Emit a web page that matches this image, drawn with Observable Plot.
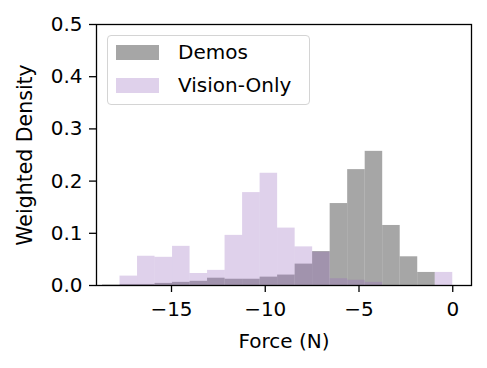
<!DOCTYPE html>
<html>
<head>
<meta charset="utf-8">
<script src="https://cdn.jsdelivr.net/npm/d3@7"></script>
<script src="https://cdn.jsdelivr.net/npm/@observablehq/plot@0.6"></script>
<style>
  html, body { margin: 0; padding: 0; background: #fff; }
  #wrap { position: relative; width: 487px; height: 368px; font-family: "DejaVu Sans", sans-serif; }
  #legend { position: absolute; left: 107px; top: 35px; width: 201px; height: 68px;
    border: 1px solid #d4d4d4; border-radius: 4px; background: rgba(255,255,255,0.8); box-sizing: content-box; }
  .entry { position: absolute; left: 8px; height: 16px; }
  .sw { position: absolute; left: 0; top: 0; width: 43px; height: 15px; }
  .lab { position: absolute; left: 62px; top: -6px; font-size: 20px; white-space: nowrap; color: #000; line-height: 26px; }
</style>
</head>
<body>
<div id="wrap"></div>
<script>
// Histogram bin range (Force, N) and number of bins
const binMin = -18.68;
const binMax = 0.0;
const binCount = 20;

// Series names and colours
const seriesNames = ["Demos", "Vision-Only"];
const seriesColors = ["#808080", "#9467bd"];
const seriesOpacity = [0.7, 0.3];

// Weighted density per bin (left to right)
const demosValues = [0.001, 0.002, 0.002, 0.004, 0.006, 0.008, 0.014, 0.012, 0.012, 0.016,
                     0.020, 0.041, 0.065, 0.157, 0.222, 0.257, 0.115, 0.055, 0.025, 0.0];
const visionValues = [0.0, 0.018, 0.056, 0.054, 0.075, 0.023, 0.029, 0.096, 0.178, 0.215,
                      0.110, 0.074, 0.064, 0.013, 0.010, 0.006, 0.0, 0.0, 0.0, 0.025];

// Axis ticks
const xTicks = [-15, -10, -5, 0];
const yTicks = [0.0, 0.1, 0.2, 0.3, 0.4, 0.5];
const xDomain = [-19, 1];
const yDomain = [0, 0.5];
const xLabel = "Force (N)";
const yLabel = "Weighted Density";

const binW = (binMax - binMin) / binCount;
function toRows(values, series) {
  return values.map((v, i) => ({series, x1: binMin + i * binW, x2: binMin + (i + 1) * binW, y: v}));
}
const rows = [...toRows(demosValues, seriesNames[0]), ...toRows(visionValues, seriesNames[1])];

const fmt = d3.format(".1f");
const chart = Plot.plot({
  width: 487,
  height: 368,
  marginLeft: 96,
  marginRight: 16,
  marginTop: 24,
  marginBottom: 83,
  style: {fontFamily: "DejaVu Sans, sans-serif", fontSize: "20px", color: "#000", background: "#fff"},
  x: {domain: xDomain},
  y: {domain: yDomain},
  marks: [
    Plot.rectY(rows.filter(d => d.series === seriesNames[0]), {x1: "x1", x2: "x2", y: "y", fill: seriesColors[0], fillOpacity: seriesOpacity[0], inset: 0}),
    Plot.rectY(rows.filter(d => d.series === seriesNames[1]), {x1: "x1", x2: "x2", y: "y", fill: seriesColors[1], fillOpacity: seriesOpacity[1], inset: 0}),
    Plot.frame({stroke: "#000", strokeWidth: 1.3}),
    Plot.axisX({ticks: xTicks, tickSize: 7, tickPadding: 9, label: null, stroke: "#000", strokeWidth: 1.3}),
    Plot.axisY({ticks: yTicks, tickSize: 7, tickPadding: 7, tickFormat: fmt, label: null, stroke: "#000", strokeWidth: 1.3}),
    Plot.text([xLabel], {frameAnchor: "bottom", text: d => d, dy: 48, lineAnchor: "top", textAnchor: "middle", fontSize: 20}),
    Plot.text([yLabel], {frameAnchor: "left", text: d => d, dx: -71, rotate: -90, lineAnchor: "middle", textAnchor: "middle", fontSize: 20.5})
  ]
});
const wrap = document.getElementById("wrap");
wrap.appendChild(chart);

// Legend overlay
const legend = document.createElement("div");
legend.id = "legend";
seriesNames.forEach((name, i) => {
  const e = document.createElement("div");
  e.className = "entry";
  e.style.top = (i === 0 ? 9 : 42) + "px";
  const sw = document.createElement("div");
  sw.className = "sw";
  sw.style.background = seriesColors[i];
  sw.style.opacity = seriesOpacity[i];
  const lab = document.createElement("div");
  lab.className = "lab";
  lab.textContent = name;
  e.appendChild(sw);
  e.appendChild(lab);
  legend.appendChild(e);
});
wrap.appendChild(legend);
</script>
</body>
</html>
